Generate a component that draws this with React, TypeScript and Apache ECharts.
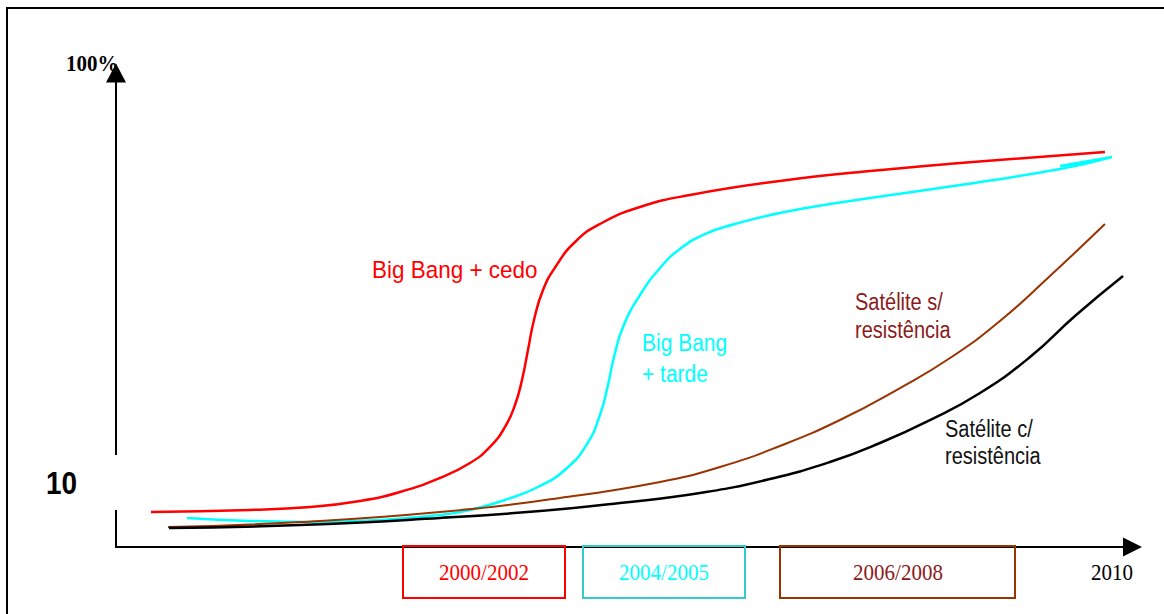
import React, { useEffect, useRef } from "react";
import * as echarts from "echarts";

// x: share of the time line (0 = origin, 100 = arrow head), y: adoption (0..100)
const bigBangCedo: [number, number][] = [
  [3.44, 7.38], [13.18, 7.81], [19.09, 8.44], [24.0, 9.7], [27.94, 11.6], [31.87, 14.56],
  [34.83, 17.72], [36.79, 21.1], [38.27, 25.32], [39.25, 29.96], [39.94, 35.23], [40.53, 41.56],
  [41.12, 47.89], [42.01, 54.22], [43.29, 59.28], [45.16, 64.35], [47.61, 68.14], [51.55, 71.73],
  [56.47, 74.26], [65.32, 77.22], [74.18, 79.32], [83.03, 81.01], [97.29, 83.33],
];
const bigBangTarde: [number, number][] = [
  [6.98, 6.12], [13.18, 5.49], [20.07, 5.27], [25.97, 5.7], [31.87, 6.75], [34.83, 7.81],
  [38.27, 9.92], [41.71, 12.87], [44.37, 16.67], [46.34, 21.73], [47.61, 27.85], [48.4, 34.18],
  [48.99, 40.08], [49.88, 46.41], [51.55, 53.16], [53.52, 58.86], [55.48, 62.87], [57.94, 66.03],
  [60.9, 68.14], [65.32, 70.46], [72.21, 72.99], [83.03, 76.37], [92.87, 79.75], [97.98, 82.28],
  [92.87, 80.38],
];
const sateliteSem: [number, number][] = [
  [5.12, 4.22], [18.1, 5.27], [31.87, 7.38], [43.68, 10.34], [53.52, 13.71], [59.42, 16.88],
  [65.32, 21.31], [71.22, 26.79], [77.13, 33.54], [82.05, 39.87], [86.96, 47.68], [91.88, 57.17],
  [97.29, 68.14],
];
const sateliteCom: [number, number][] = [
  [5.21, 4.01], [18.1, 4.64], [31.87, 6.12], [41.71, 7.59], [49.58, 9.28], [57.45, 11.39],
  [64.34, 14.35], [70.24, 17.93], [75.16, 21.94], [80.08, 26.79], [85.0, 32.49], [89.92, 40.08],
  [94.34, 48.73], [99.07, 57.17],
];

const seriesNames = ["Big Bang + cedo", "Big Bang + tarde", "Satélite s/ resistência", "Satélite c/ resistência"];
const periodLabels = ["2000/2002", "2004/2005", "2006/2008"];
const endLabel = "2010";
const yTopLabel = "100%";
const yLowLabel = "10";

const SANS = '"Liberation Sans", Arial, sans-serif';
const SERIF = '"Liberation Serif", "Times New Roman", serif';

function txt(text: string, x: number, y: number, fill: string, size: number, family: string, opts: any = {}) {
  return {
    type: "text",
    x,
    y,
    scaleX: opts.scaleX ?? 1,
    scaleY: opts.scaleY ?? 1.15,
    z: 50,
    style: {
      text,
      fill,
      fontSize: size,
      fontFamily: family,
      fontWeight: opts.bold ? "bold" : "normal",
      align: opts.align ?? "left",
      verticalAlign: "middle",
    },
  };
}

function box(x: number, y: number, w: number, h: number, stroke: string) {
  return {
    type: "rect",
    z: 40,
    shape: { x, y, width: w, height: h },
    style: { fill: "rgba(0,0,0,0)", stroke, lineWidth: 2 },
  };
}

export default function App() {
  const ref = useRef<HTMLDivElement>(null);
  useEffect(() => {
    if (!ref.current) return;
    const chart = echarts.init(ref.current, null, { renderer: "svg" });
    const line = (name: string, data: [number, number][], color: string, width: number) => ({
      type: "line",
      name,
      data,
      smooth: 0.5,
      symbol: "none",
      showSymbol: false,
      lineStyle: { color, width },
      z: 5,
    });
    chart.setOption({
      animation: false,
      backgroundColor: "#ffffff",
      grid: { left: 116, right: 31.5, top: 73, bottom: 67 },
      xAxis: {
        type: "value",
        min: 0,
        max: 100,
        axisLine: {
          show: true,
          symbol: ["none", "triangle"],
          symbolSize: [19, 19],
          lineStyle: { color: "#000", width: 2 },
        },
        axisTick: { show: false },
        axisLabel: { show: false },
        splitLine: { show: false },
      },
      yAxis: {
        type: "value",
        min: 0,
        max: 100,
        axisLine: {
          show: true,
          symbol: ["none", "triangle"],
          symbolSize: [20, 19],
          lineStyle: { color: "#000", width: 2 },
        },
        axisTick: { show: false },
        axisLabel: { show: false },
        splitLine: { show: false },
      },
      series: [
        line(seriesNames[0], bigBangCedo, "#ff0000", 2.5),
        line(seriesNames[1], bigBangTarde, "#00ffff", 2.5),
        line(seriesNames[2], sateliteSem, "#993300", 2),
        line(seriesNames[3], sateliteCom, "#000000", 2.5),
      ],
      graphic: [
        // outer frame (top and left edges visible)
        { type: "rect", z: 1, shape: { x: 7, y: 8, width: 1300, height: 800 }, style: { fill: "rgba(0,0,0,0)", stroke: "#000", lineWidth: 2 } },
        // gap in the y axis behind the "10" label
        { type: "rect", z: 30, shape: { x: 110, y: 455, width: 12, height: 55 }, style: { fill: "#ffffff" } },
        txt(yTopLabel, 66, 63, "#000", 21, SERIF, { bold: true, scaleY: 1.12 }),
        txt(yLowLabel, 46, 483, "#000", 28, SANS, { bold: true, scaleY: 1.1 }),
        txt("Big Bang + cedo", 372, 270, "#ff0000", 21, SANS, { scaleX: 1.07 }),
        txt("Big Bang", 642, 343, "#00ffff", 21, SANS),
        txt("+ tarde", 642, 374, "#00ffff", 21, SANS),
        txt("Satélite s/", 855, 302, "#8b1a1a", 20, SANS),
        txt("resistência", 855, 330, "#8b1a1a", 20, SANS),
        txt("Satélite c/", 945, 429, "#111111", 20, SANS),
        txt("resistência", 945, 456, "#111111", 20, SANS),
        box(403, 546, 162, 52, "#ff0000"),
        box(583, 546, 162, 52, "#33cccc"),
        box(780, 546, 235, 52, "#993300"),
        txt(periodLabels[0], 484, 573, "#ff0000", 21, SERIF, { align: "center", scaleY: 1.08 }),
        txt(periodLabels[1], 664, 573, "#00ffff", 21, SERIF, { align: "center", scaleY: 1.08 }),
        txt(periodLabels[2], 898, 573, "#8b1a1a", 21, SERIF, { align: "center", scaleY: 1.08 }),
        txt(endLabel, 1112, 573, "#000", 21, SERIF, { align: "center", scaleY: 1.08 }),
      ],
    });
    return () => chart.dispose();
  }, []);
  return (
    <div
      ref={ref}
      style={{ position: "absolute", left: 0, top: 0, width: 1164, height: 614, background: "#fff" }}
    />
  );
}
